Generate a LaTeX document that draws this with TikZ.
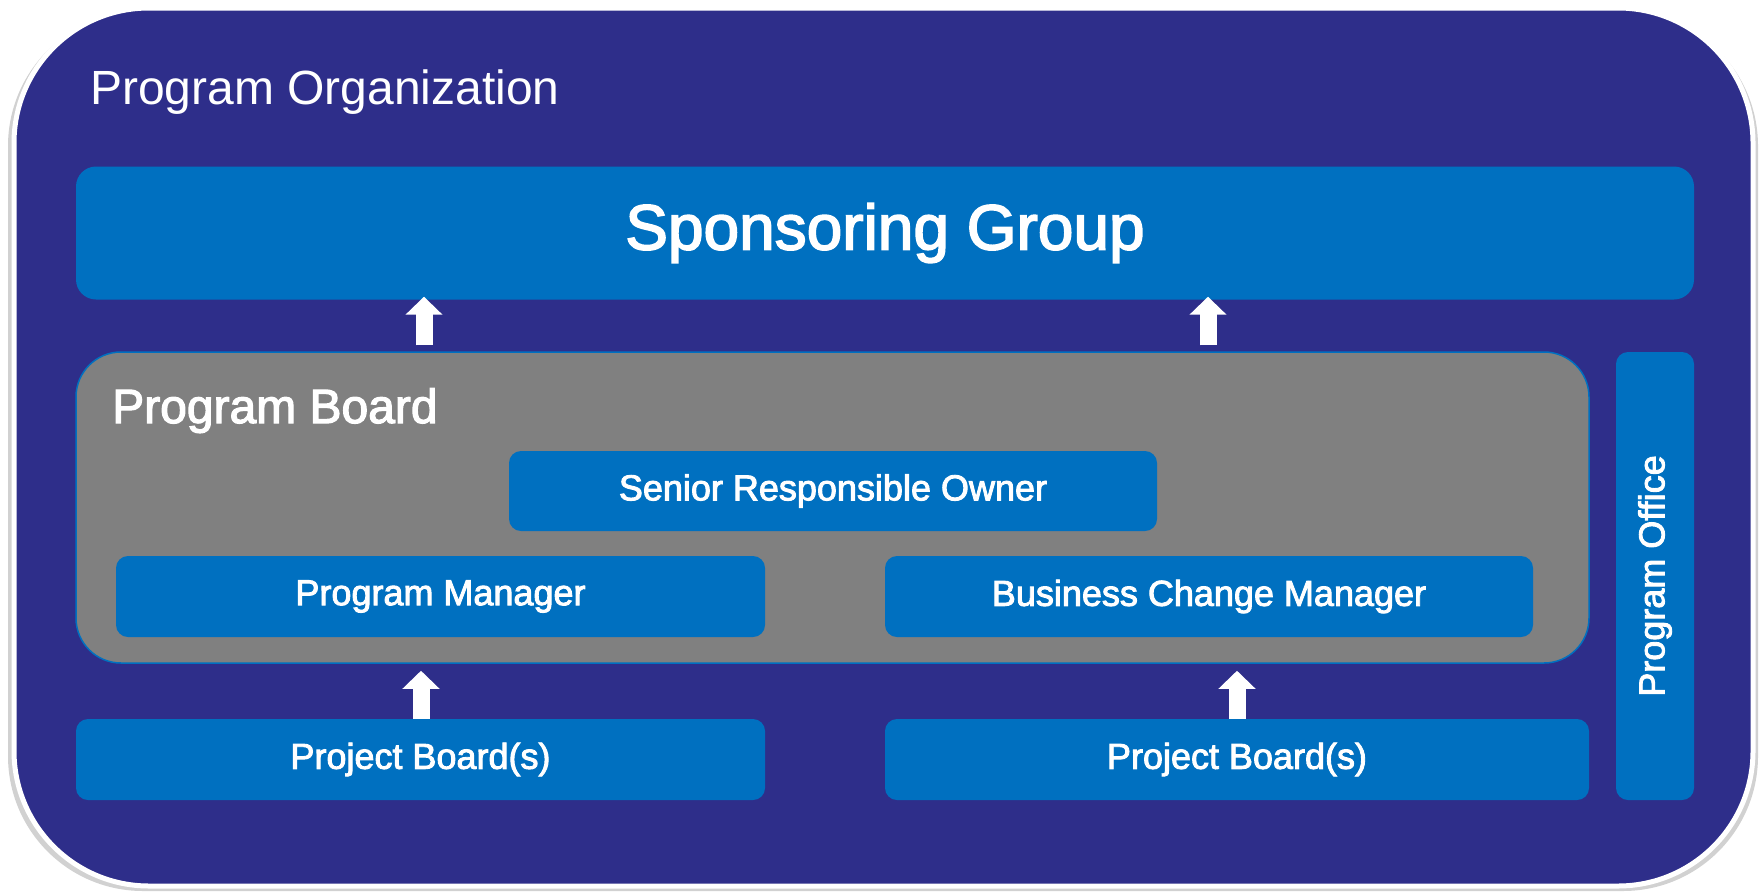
\documentclass[tikz,border=0pt]{standalone}
\usepackage{fontspec}
\setmainfont{Liberation Sans}
\newfontfamily\glowfont[FakeBold=2.5]{Liberation Sans}
\usetikzlibrary{arrows.meta}

\definecolor{orgBlue}{RGB}{46,46,138}
\definecolor{boxBlue}{RGB}{0,112,192}
\definecolor{boardGray}{RGB}{128,128,128}

\begin{document}
\begin{tikzpicture}
[x=1pt,y=-1pt,%
  boxDecorate/.style={fill=boxBlue,rounded corners=12pt,text=white,inner sep=0pt,font=\glowfont\fontsize{36}{40}\selectfont},%
  arrowDecorate/.style={white,line width=17pt,-{Triangle[length=18pt,width=36pt]}},%
  titleDecorate/.style={anchor=base west,inner sep=0pt,text=white,font=\fontsize{48}{56}\selectfont}]
\useasboundingbox (0,0) rectangle (1761,892);
%% outer frame
\fill[black!18,rounded corners=135pt] (8,11) rectangle (1758,891);
\filldraw[fill=orgBlue,draw=white,line width=5pt,rounded corners=135pt] (14,8) rectangle (1753,886);
\node[titleDecorate] (orgTitle) at (90,104) {Program Organization};
%% boxes
\node[boxDecorate,rounded corners=20pt,minimum width=1618pt,minimum height=133pt,
  font=\glowfont\fontsize{64}{72}\selectfont] (sg) at (885,233) {Sponsoring Group};
\node[fill=boardGray,draw=boxBlue,line width=1.5pt,rounded corners=45pt,
  minimum width=1513pt,minimum height=311pt] (pb) at (832.5,507.5) {};
\node[titleDecorate,font=\glowfont\fontsize{48}{56}\selectfont] (pbTitle) at (112,423) {Program Board};
\node[boxDecorate,minimum width=648pt,minimum height=80pt] (sro) at (833,491) {Senior Responsible Owner};
\node[boxDecorate,minimum width=649pt,minimum height=81pt] (pm) at (440.5,596.5) {Program Manager};
\node[boxDecorate,minimum width=648pt,minimum height=81pt] (bcm) at (1209,596.5) {Business Change Manager};
\node[boxDecorate,minimum width=689pt,minimum height=81pt] (pjL) at (420.5,759.5) {Project Board(s)};
\node[boxDecorate,minimum width=704pt,minimum height=81pt] (pjR) at (1237,759.5) {Project Board(s)};
\node[boxDecorate,rotate=90,minimum width=448pt,minimum height=78pt] (po) at (1655,576) {Program Office};
%% block arrows
\foreach \lower/\upper/\xpos/\gapLow/\gapUp in {
  pb/sg/424/6/-3, pb/sg/1208/6/-3, pjL/pb/421/0/7, pjR/pb/1237/0/7}
{
  \draw[arrowDecorate,shorten <=\gapLow pt,shorten >=\gapUp pt]
    (\lower.north -| \xpos,0) -- (\upper.south -| \xpos,0);
}
\end{tikzpicture}
\end{document}
